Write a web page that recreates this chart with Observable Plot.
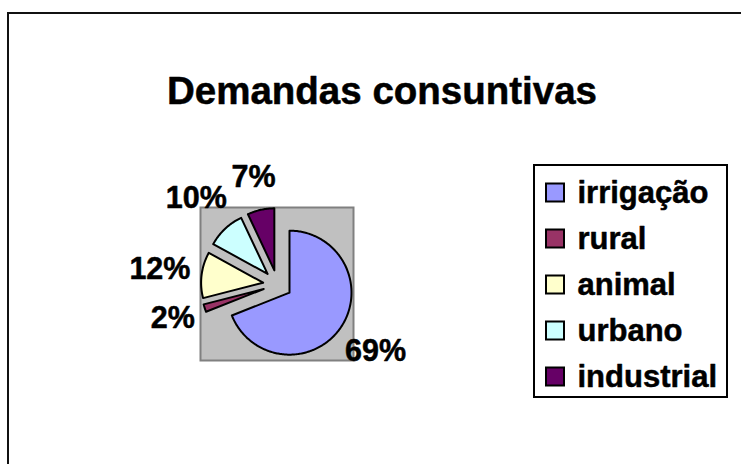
<!DOCTYPE html>
<html>
<head>
<meta charset="utf-8">
<script src="https://cdn.jsdelivr.net/npm/d3@7"></script>
<script src="https://cdn.jsdelivr.net/npm/@observablehq/plot@0.6"></script>
<style>
  html, body { margin: 0; padding: 0; background: #fff; }
  #wrap { position: relative; width: 741px; height: 464px; overflow: hidden; }
  #border { position: absolute; left: 7px; top: 12px; width: 800px; height: 600px;
            border-left: 2px solid #111; border-top: 2px solid #111; }
  #chart { position: absolute; left: 0; top: 0; }
  svg text { font-family: "Liberation Sans", Arial, sans-serif; }
</style>
</head>
<body>
<div id="wrap"><div id="border"></div><div id="chart"></div></div>
<script>
// ---- data ----
const title = "Demandas consuntivas";
const categories = ["irrigação", "rural", "animal", "urbano", "industrial"];
const values = [69, 2, 12, 10, 7];
const labels = ["69%", "2%", "12%", "10%", "7%"];
const colors = ["#9999FF", "#993366", "#FFFFCC", "#CCFFFF", "#660066"];

// ---- layout ----
const W = 741, H = 464;
const cx = 277, cy = 284, R = 62, explode = 14.5;
const labelFont = 30.5, legendFont = 31, titleFont = 38.5;

const arcs = d3.pie().sort(null).value(d => d)(values);

const slices = arcs.map((a, i) => {
  const mid = (a.startAngle + a.endAngle) / 2;
  const ox = cx + explode * Math.sin(mid);
  const oy = cy - explode * Math.cos(mid);
  const pts = [{x: ox, y: oy}];
  const n = Math.max(2, Math.ceil((a.endAngle - a.startAngle) / (Math.PI / 180)));
  for (let k = 0; k <= n; k++) {
    const t = a.startAngle + (a.endAngle - a.startAngle) * k / n;
    pts.push({x: ox + R * Math.sin(t), y: oy - R * Math.cos(t)});
  }
  pts.push({x: ox, y: oy});
  return {pts, color: colors[i]};
});

const charW = ch => ch === "%" ? 0.889 : 0.556;
const labelData = arcs.map((a, i) => {
  const mid = (a.startAngle + a.endAngle) / 2;
  const half = labels[i].split("").reduce((s, c) => s + charW(c), 0) * labelFont / 2;
  const d = 88 + half;
  return {x: cx + d * Math.sin(mid), y: cy - d * Math.cos(mid), text: labels[i]};
});

const legTop = 192.5, legStep = 46, sw = 18, swX = 546, txtX = 577;
const legend = categories.map((c, i) => ({name: c, color: colors[i], y: legTop + i * legStep}));

const pa = R + explode;
const txtStyle = {fill: "#000", stroke: "#000", strokeWidth: 0.5, fontWeight: "bold", lineAnchor: "middle"};

const chart = Plot.plot({
  width: W, height: H,
  margin: 0,
  x: {domain: [0, W], range: [0, W], axis: null},
  y: {domain: [0, H], range: [0, H], axis: null},
  style: {background: "transparent", overflow: "visible"},
  marks: [
    // plot area
    Plot.rect([0], {x1: cx - pa, x2: cx + pa, y1: cy - pa, y2: cy + pa,
                    fill: "#C0C0C0", stroke: "#808080", strokeWidth: 2}),
    // slices
    ...slices.map(s => Plot.line(s.pts, {x: "x", y: "y", fill: s.color, stroke: "#000",
                                         strokeWidth: 2, strokeLinejoin: "round", curve: "linear"})),
    // data labels
    Plot.text(labelData, {x: "x", y: "y", text: "text", fontSize: labelFont, textAnchor: "middle", ...txtStyle}),
    // title
    Plot.text([title], {x: 381.5, y: 91, text: d => d, fontSize: titleFont, textAnchor: "middle", ...txtStyle}),
    // legend box
    Plot.rect([0], {x1: 534, x2: 727, y1: 165, y2: 397, fill: "#fff", stroke: "#000", strokeWidth: 2}),
    Plot.rect(legend, {x1: swX, x2: swX + sw, y1: d => d.y - sw / 2, y2: d => d.y + sw / 2,
                       fill: "color", stroke: "#000", strokeWidth: 2}),
    Plot.text(legend, {x: txtX, y: "y", text: "name", fontSize: legendFont, textAnchor: "start", ...txtStyle})
  ]
});
document.getElementById("chart").appendChild(chart);
</script>
</body>
</html>
